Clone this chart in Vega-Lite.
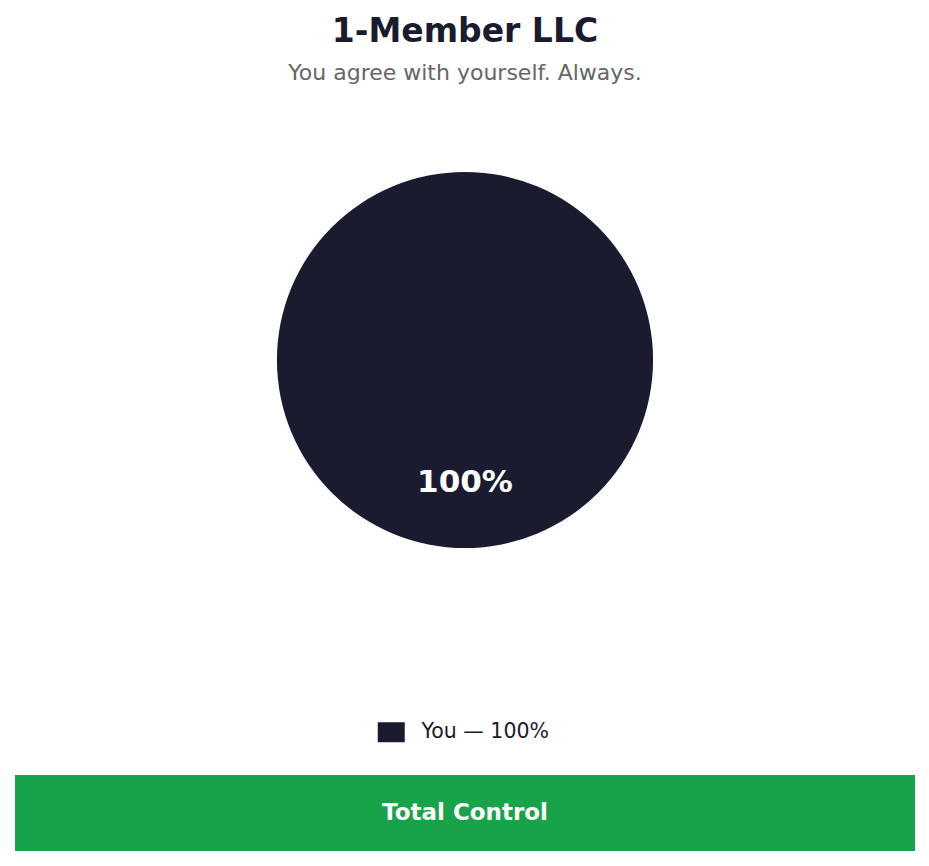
{
  "$schema": "https://vega.github.io/schema/vega-lite/v6.json",
  "padding": {"left": 15, "right": 14, "top": 16, "bottom": 15},
  "title": {
    "text": "1-Member LLC",
    "subtitle": "You agree with yourself. Always.",
    "font": "DejaVu Sans",
    "fontSize": 33,
    "fontWeight": "bold",
    "color": "#1b1b2e",
    "subtitleFont": "DejaVu Sans",
    "subtitleFontSize": 22,
    "subtitleColor": "#666666",
    "subtitlePadding": 14,
    "anchor": "middle",
    "offset": 26
  },
  "datasets": {
    "owners": [
      {"member": "You", "share": 100, "label": "100%", "legend": "You — 100%"}
    ],
    "banner": [
      {"text": "Total Control"}
    ]
  },
  "spacing": 32,
  "resolve": {"legend": {"color": "independent"}, "scale": {"color": "independent"}},
  "vconcat": [
    {
      "width": 900,
      "height": 500,
      "data": {"name": "owners"},
      "layer": [
        {
          "mark": {"type": "arc", "outerRadius": 188},
          "encoding": {
            "theta": {"field": "share", "type": "quantitative", "stack": true},
            "color": {
              "field": "legend",
              "type": "nominal",
              "scale": {"range": ["#1b1b2f"]},
              "legend": {
                "title": null,
                "orient": "bottom",
                "direction": "horizontal",
                "offset": 112,
                "symbolType": "M-1.35,-1L1.35,-1L1.35,1L-1.35,1Z",
                "symbolSize": 400,
                "symbolStrokeWidth": 0,
                "symbolOpacity": 1,
                "labelFont": "DejaVu Sans",
                "labelFontSize": 20.5,
                "labelColor": "#1b1b2e",
                "labelOffset": 20
              }
            }
          }
        },
        {
          "mark": {
            "type": "text",
            "radius": 123,
            "font": "DejaVu Sans",
            "fontSize": 31,
            "fontWeight": "bold",
            "color": "white"
          },
          "encoding": {
            "theta": {"field": "share", "type": "quantitative", "stack": true},
            "text": {"field": "label"}
          }
        }
      ]
    },
    {
      "width": 900,
      "height": 76,
      "data": {"name": "banner"},
      "layer": [
        {
          "mark": {"type": "rect", "color": "#18a34a"},
          "encoding": {}
        },
        {
          "mark": {
            "type": "text",
            "font": "DejaVu Sans",
            "fontSize": 23,
            "fontWeight": "bold",
            "color": "white"
          },
          "encoding": {
            "text": {"field": "text"}
          }
        }
      ]
    }
  ],
  "config": {
    "view": {"stroke": null},
    "font": "DejaVu Sans",
    "legend": {"layout": {"bottom": {"anchor": "middle"}}}
  }
}
